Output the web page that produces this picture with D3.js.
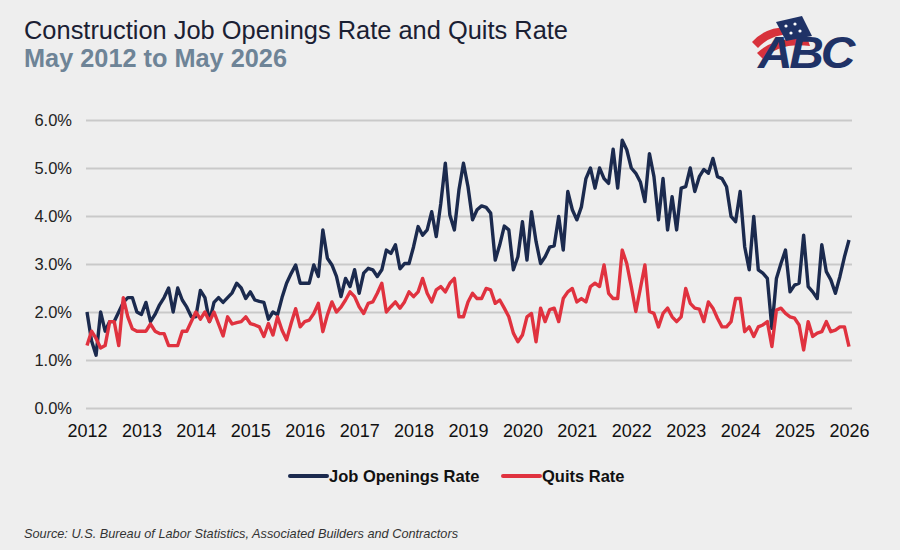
<!DOCTYPE html>
<html><head><meta charset="utf-8">
<script src="https://cdn.jsdelivr.net/npm/d3@7"></script>
<style>
html,body{margin:0;padding:0;background:#eeeeee;}
svg{display:block;}
</style></head>
<body><svg id="c" width="900" height="550"></svg>
<script>
const yearLabels = ["2012","2013","2014","2015","2016","2017","2018","2019","2020","2021","2022","2023","2024","2025","2026"];
const yTicks = [0,1,2,3,4,5,6];
const jobOpenings = [
2.0,1.4,1.1,2.0,1.6,1.8,1.8,2.0,2.2,2.3,2.3,2.0,1.95,2.2,1.8,1.95,2.15,2.3,2.5,2.0,
2.5,2.25,2.1,1.9,1.9,2.45,2.3,1.8,2.2,2.3,2.2,2.3,2.4,2.6,2.5,2.28,2.42,2.25,2.22,2.2,
1.85,2.0,1.94,2.3,2.6,2.8,2.98,2.6,2.6,2.6,2.98,2.74,3.71,3.12,2.98,2.74,2.32,2.7,2.53,2.88,
2.39,2.81,2.91,2.88,2.74,2.88,3.29,3.22,3.4,2.9,3.01,3.01,3.36,3.78,3.6,3.71,4.09,3.57,4.26,5.1,
4.02,3.71,4.54,5.1,4.61,3.92,4.13,4.21,4.18,4.06,3.08,3.4,3.79,3.71,2.88,3.15,3.88,3.08,4.09,3.47,
3.01,3.15,3.35,3.38,3.99,3.29,4.51,4.13,3.92,4.19,4.78,5.0,4.58,5.0,4.78,4.68,5.39,4.58,5.58,5.38,
5.0,4.89,4.71,4.3,5.3,4.82,3.92,4.78,3.71,4.4,3.71,4.58,4.61,5.0,4.51,4.82,4.97,4.89,5.2,4.82,
4.78,4.61,3.99,3.88,4.51,3.36,2.88,3.99,2.88,2.81,2.7,1.66,2.7,3.01,3.29,2.42,2.56,2.6,3.6,2.53,
2.42,2.28,3.4,2.84,2.67,2.39,2.74,3.15,3.5];
const quits = [
1.3,1.6,1.45,1.25,1.3,1.8,1.8,1.3,2.3,1.9,1.65,1.6,1.6,1.6,1.75,1.6,1.55,1.55,1.3,1.3,
1.3,1.6,1.6,1.8,2.0,1.85,2.0,1.8,2.0,1.75,1.5,1.9,1.75,1.78,1.8,1.9,1.76,1.73,1.69,1.49,
1.76,1.52,1.9,1.62,1.42,1.76,2.07,1.69,1.8,1.83,1.97,2.18,1.59,1.94,2.21,2.0,2.1,2.25,2.42,2.32,
2.11,1.97,2.18,2.21,2.39,2.6,2.0,2.11,2.21,2.08,2.21,2.42,2.32,2.42,2.7,2.39,2.21,2.46,2.53,2.42,
2.6,2.7,1.9,1.9,2.21,2.39,2.28,2.28,2.49,2.46,2.18,2.25,2.08,1.9,1.56,1.38,1.52,1.9,1.97,1.38,
2.08,1.8,2.05,2.08,1.8,2.28,2.42,2.49,2.21,2.28,2.21,2.53,2.6,2.53,2.98,2.39,2.28,2.28,3.29,3.01,
2.53,2.01,2.49,2.98,2.01,1.97,1.69,1.97,2.08,1.9,1.8,1.9,2.49,2.18,2.08,2.06,1.8,2.21,2.08,1.87,
1.69,1.69,1.8,2.28,2.28,1.59,1.69,1.49,1.69,1.73,1.8,1.28,2.04,2.08,1.97,1.9,1.87,1.73,1.21,1.8,
1.49,1.56,1.59,1.8,1.59,1.62,1.69,1.69,1.28];
const seriesNames = ["Job Openings Rate","Quits Rate"];
const colors = ["#1b2a4e","#e0323f"];

const svg = d3.select("#c");
const font = "'Liberation Sans', Arial, sans-serif";
svg.append("rect").attr("width",900).attr("height",550).attr("fill","#eeeeee");

const x = d3.scaleLinear().domain([0, jobOpenings.length-1]).range([87, 849]);
const y = d3.scaleLinear().domain([0, 6]).range([408, 120]);

// gridlines + y axis
const ya = svg.append("g").attr("transform","translate(86,0)")
  .call(d3.axisLeft(y).tickValues(yTicks).tickSize(-766).tickPadding(14).tickFormat(d => d.toFixed(1)+"%"));
ya.select(".domain").remove();
ya.selectAll(".tick line").attr("stroke","#c9c9c9").attr("stroke-width",2);
ya.selectAll(".tick text").attr("font-family",font).attr("font-size",16.5).attr("fill","#222");

// x axis
const xa = svg.append("g").attr("transform","translate(0,421)")
  .call(d3.axisBottom(x).tickValues(yearLabels.map((d,i)=>i*12)).tickSize(0).tickPadding(3)
    .tickFormat((d)=>yearLabels[d/12]));
xa.select(".domain").remove();
xa.selectAll(".tick text").attr("font-family",font).attr("font-size",18).attr("fill","#111");

const line = d3.line().x((d,i)=>x(i)).y(d=>y(d));
[jobOpenings, quits].forEach((s,k)=>{
  svg.append("path").datum(s).attr("d",line).attr("fill","none")
    .attr("stroke",colors[k]).attr("stroke-width",3.4).attr("stroke-linejoin","round");
});

// titles
svg.append("text").attr("x",24).attr("y",39).attr("font-family",font).attr("font-size",25)
  .attr("fill","#1a2033").attr("textLength",544).attr("lengthAdjust","spacingAndGlyphs")
  .text("Construction Job Openings Rate and Quits Rate");
svg.append("text").attr("x",24).attr("y",67).attr("font-family",font).attr("font-size",25)
  .attr("font-weight","bold").attr("fill","#6e8497").attr("textLength",263).attr("lengthAdjust","spacingAndGlyphs")
  .text("May 2012 to May 2026");

// legend
const leg = [{x:290, tx:329}, {x:503, tx:542}];
seriesNames.forEach((n,k)=>{
  svg.append("line").attr("x1",leg[k].x).attr("x2",leg[k].x+37).attr("y1",476).attr("y2",476)
    .attr("stroke",colors[k]).attr("stroke-width",4).attr("stroke-linecap","round");
  svg.append("text").attr("x",leg[k].tx).attr("y",482).attr("font-family",font).attr("font-size",16.5)
    .attr("font-weight","bold").attr("fill","#111").text(n);
});

// source
svg.append("text").attr("x",24).attr("y",538).attr("font-family",font).attr("font-size",12.7)
  .attr("font-style","italic").attr("fill","#333").attr("textLength",434).attr("lengthAdjust","spacingAndGlyphs")
  .text("Source: U.S. Bureau of Labor Statistics, Associated Builders and Contractors");

// logo
const lg = svg.append("g");
lg.append("path").attr("d","M752,42 Q770,22 802,29 L805,35 Q774,30 758,48 Z").attr("fill","#d8323c");
lg.append("path").attr("d","M757,53 Q776,35 808,40 L810,46 Q780,42 763,59 Z").attr("fill","#d8323c");
lg.append("path").attr("d","M776,22 L802,16 L812,36 L786,41 Z").attr("fill","#1f3266");
[[786,26],[795,24],[791,33],[800,31]].forEach(p=>lg.append("circle").attr("cx",p[0]).attr("cy",p[1]).attr("r",1.6).attr("fill","#fff"));
lg.append("text").attr("x",758).attr("y",68).attr("font-family",font).attr("font-size",44)
  .attr("font-weight","bold").attr("font-style","italic").attr("letter-spacing",-3).attr("fill","#1f3266")
  .attr("textLength",94).attr("lengthAdjust","spacingAndGlyphs").text("ABC");
</script></body></html>
